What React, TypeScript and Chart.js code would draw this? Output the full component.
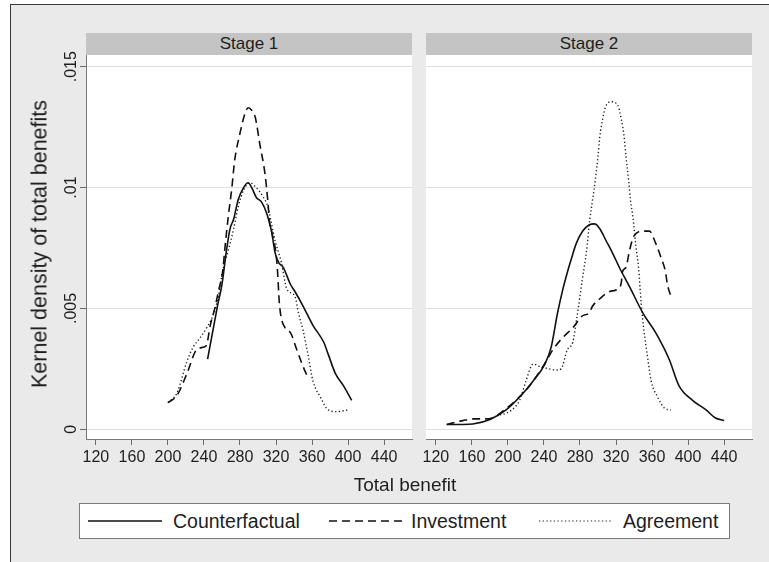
import { useEffect, useRef } from "react";
import { Chart, registerables } from "chart.js";

Chart.register(...registerables);

const FONT = "'Liberation Sans', Arial, Helvetica, sans-serif";

const STAGES = ["Stage 1", "Stage 2"];
const SERIES_NAMES = ["Counterfactual", "Investment", "Agreement"];
const X_TICKS = [120, 160, 200, 240, 280, 320, 360, 400, 440];
const Y_TICKS = [0, 0.005, 0.01, 0.015];
const Y_TICK_LABELS = ["0", ".005", ".01", ".015"];
const X_TITLE = "Total benefit";
const Y_TITLE = "Kernel density of total benefits";

// Stage 1 kernel density estimates
const S1_COUNTER_X = [244, 250, 255, 260, 265, 269, 273, 278, 284, 289, 293, 298, 304, 310, 315, 319, 323, 328, 336, 341, 350, 361, 373, 378, 386, 395, 404];
const S1_COUNTER_Y = [0.0029, 0.0041, 0.0051, 0.006, 0.0074, 0.0083, 0.0087, 0.0095, 0.01, 0.0102, 0.01, 0.0096, 0.0094, 0.0089, 0.0082, 0.0073, 0.0069, 0.0067, 0.006, 0.0057, 0.0051, 0.0043, 0.0036, 0.0031, 0.0023, 0.0018, 0.0012];

const S1_INVEST_X = [200, 210, 221, 232, 240, 243, 247, 252, 256, 261, 263, 267, 271, 274, 280, 285, 289, 293, 297, 302, 308, 311, 313, 315, 321, 324, 330, 336, 343, 350, 356];
const S1_INVEST_Y = [0.0011, 0.0014, 0.0023, 0.0033, 0.0034, 0.0035, 0.0043, 0.005, 0.0057, 0.0066, 0.0074, 0.0088, 0.01, 0.0111, 0.01225, 0.013, 0.0133, 0.0132, 0.0129, 0.0118, 0.0105, 0.0094, 0.0085, 0.0082, 0.0069, 0.0051, 0.0042, 0.004, 0.0033, 0.0026, 0.0021];

const S1_AGREE_X = [200, 210, 221, 228, 236, 243, 250, 256, 261, 267, 273, 278, 284, 291, 298, 306, 311, 315, 319, 326, 332, 341, 345, 350, 356, 361, 369, 378, 387, 400];
const S1_AGREE_Y = [0.0011, 0.0015, 0.0028, 0.0034, 0.0038, 0.0042, 0.0047, 0.0055, 0.0066, 0.0074, 0.0083, 0.0092, 0.0099, 0.0102, 0.01, 0.0096, 0.0092, 0.0085, 0.0078, 0.0069, 0.0058, 0.0055, 0.0048, 0.0041, 0.003, 0.002, 0.00135, 0.0008, 0.00073, 0.0008];

// Stage 2 kernel density estimates
const S2_COUNTER_X = [132, 150, 161, 180, 198, 217, 228, 241, 248, 255, 261, 266, 270, 276, 283, 290, 296, 302, 309, 316, 325, 335, 350, 364, 379, 390, 405, 420, 430, 440];
const S2_COUNTER_Y = [0.0002, 0.0002, 0.00022, 0.00041, 0.0008, 0.0015, 0.002, 0.0027, 0.0034, 0.0048, 0.0058, 0.0065, 0.007, 0.0077, 0.0082, 0.00845, 0.0085, 0.0083, 0.0078, 0.0073, 0.0066, 0.0059, 0.0048, 0.004, 0.0029, 0.0018, 0.0012, 0.0008, 0.00048, 0.00036];

const S2_INVEST_X = [132, 150, 161, 178, 198, 213, 224, 239, 250, 261, 272, 283, 290, 294, 302, 313, 322, 326, 327, 331, 335, 340, 350, 357, 364, 370, 375, 377, 381];
const S2_INVEST_Y = [0.0002, 0.00036, 0.00043, 0.00043, 0.00086, 0.00135, 0.0018, 0.0026, 0.0033, 0.0038, 0.0042, 0.0047, 0.0048, 0.0051, 0.0054, 0.0057, 0.0058, 0.0061, 0.0065, 0.0067, 0.0074, 0.008, 0.0082, 0.0082, 0.0077, 0.0071, 0.0065, 0.006, 0.0055];

const S2_AGREE_X = [191, 198, 208, 213, 220, 228, 235, 246, 254, 259, 266, 272, 276, 280, 283, 287, 291, 294, 297, 300, 302, 305, 309, 315, 322, 326, 329, 331, 334, 336, 339, 342, 345, 348, 351, 355, 359, 366, 374, 381];
const S2_AGREE_Y = [0.0006, 0.00066, 0.00093, 0.0012, 0.002, 0.0027, 0.0026, 0.0025, 0.00245, 0.0025, 0.0033, 0.0036, 0.0045, 0.0055, 0.0063, 0.0073, 0.0087, 0.0095, 0.0103, 0.0113, 0.0121, 0.0128, 0.0134, 0.01355, 0.0134, 0.0128, 0.0121, 0.0113, 0.0103, 0.0095, 0.0087, 0.0076, 0.0067, 0.0052, 0.0041, 0.003, 0.002, 0.00135, 0.00087, 0.0008];

const STAGE_SERIES = [
  [
    [S1_COUNTER_X, S1_COUNTER_Y],
    [S1_INVEST_X, S1_INVEST_Y],
    [S1_AGREE_X, S1_AGREE_Y],
  ],
  [
    [S2_COUNTER_X, S2_COUNTER_Y],
    [S2_INVEST_X, S2_INVEST_Y],
    [S2_AGREE_X, S2_AGREE_Y],
  ],
];

const LINE_STYLES = [
  { borderDash: [] as number[], borderWidth: 1.6, color: "#111" },
  { borderDash: [8, 5], borderWidth: 1.6, color: "#111" },
  { borderDash: [1.3, 2.4], borderWidth: 1.4, color: "#222" },
];

const W = 769;
const H = 562;
const PLOT_TOP = 55;
const PLOT_BOTTOM = 439;
const PANELS = [
  { left: 86, right: 412, showY: true },
  { left: 426, right: 752, showY: false },
];

const panelDecor = {
  id: "panelDecor",
  beforeDraw(chart: any) {
    const { ctx, chartArea } = chart;
    ctx.save();
    ctx.fillStyle = "#ffffff";
    ctx.fillRect(chartArea.left, chartArea.top, chartArea.right - chartArea.left, chartArea.bottom - chartArea.top);
    ctx.restore();
  },
  afterDraw(chart: any, _args: any, opts: any) {
    const { ctx } = chart;
    const xs = chart.scales.x;
    const ys = chart.scales.y;
    ctx.save();
    ctx.fillStyle = "#1e1e1e";
    ctx.font = `16px ${FONT}`;
    ctx.textAlign = "center";
    ctx.textBaseline = "middle";
    X_TICKS.forEach((v) => {
      ctx.fillText(String(v), xs.getPixelForValue(v), 458);
    });
    if (opts && opts.yLabels) {
      Y_TICKS.forEach((v, i) => {
        ctx.save();
        ctx.translate(71.5, ys.getPixelForValue(v));
        ctx.rotate(-Math.PI / 2);
        ctx.fillText(Y_TICK_LABELS[i], 0, 0);
        ctx.restore();
      });
    }
    ctx.restore();
  },
};

function Panel({ index }: { index: number }) {
  const ref = useRef<HTMLCanvasElement | null>(null);
  useEffect(() => {
    const canvas = ref.current;
    if (!canvas) return;
    const p = PANELS[index];
    const yWidth = p.showY ? 6 : 0;
    const chart = new Chart(canvas, {
      type: "line",
      data: {
        datasets: STAGE_SERIES[index].map(([xs, ys], k) => ({
          label: SERIES_NAMES[k],
          data: xs.map((x, i) => ({ x, y: ys[i] })),
          borderColor: LINE_STYLES[k].color,
          borderWidth: LINE_STYLES[k].borderWidth,
          borderDash: LINE_STYLES[k].borderDash,
          pointRadius: 0,
          fill: false,
          cubicInterpolationMode: "monotone" as const,
        })),
      },
      options: {
        responsive: false,
        animation: false,
        devicePixelRatio: 1,
        events: [],
        layout: {
          padding: {
            left: p.left - yWidth,
            right: W - p.right,
            top: PLOT_TOP,
            bottom: H - PLOT_BOTTOM - 6,
          },
        },
        plugins: {
          legend: { display: false },
          tooltip: { enabled: false },
          title: { display: false },
          panelDecor: { yLabels: p.showY },
        } as any,
        scales: {
          x: {
            type: "linear",
            min: 109,
            max: 471,
            afterBuildTicks: (s: any) => {
              s.ticks = X_TICKS.map((v) => ({ value: v }));
            },
            afterFit: (s: any) => {
              s.height = 6;
            },
            ticks: { display: false },
            grid: {
              drawOnChartArea: false,
              drawTicks: true,
              tickLength: 6,
              tickColor: "#6a6a6a",
              color: "#6a6a6a",
            },
            border: { display: true, color: "#7a7a7a", width: 1 },
          },
          y: {
            type: "linear",
            min: -0.000401,
            max: 0.015484,
            afterBuildTicks: (s: any) => {
              s.ticks = Y_TICKS.map((v) => ({ value: v }));
            },
            afterFit: (s: any) => {
              s.width = yWidth;
            },
            ticks: { display: false },
            grid: {
              color: "#dedede",
              lineWidth: 1,
              drawTicks: p.showY,
              tickLength: 6,
              tickColor: "#6a6a6a",
            },
            border: { display: p.showY, color: "#7a7a7a", width: 1 },
          },
        },
      },
      plugins: [panelDecor],
    });
    return () => chart.destroy();
  }, [index]);
  return (
    <canvas
      ref={ref}
      width={W}
      height={H}
      style={{ position: "absolute", left: 0, top: 0, width: W, height: H }}
    />
  );
}

function LegendLine({ k }: { k: number }) {
  const s = LINE_STYLES[k];
  return (
    <svg width={74} height={6} style={{ display: "block" }}>
      <line
        x1={0}
        y1={3}
        x2={74}
        y2={3}
        stroke={s.color}
        strokeWidth={k === 2 ? 1 : 1.4}
        strokeDasharray={s.borderDash.length ? s.borderDash.join(" ") : undefined}
      />
    </svg>
  );
}

const LEGEND_ITEMS = [
  { line: 8, text: 93 },
  { line: 249, text: 331 },
  { line: 459, text: 543 },
];

export default function App() {
  const textStyle = { fontFamily: FONT, color: "#1e1e1e" } as const;
  return (
    <div
      style={{
        position: "fixed",
        left: 0,
        top: 0,
        width: W,
        height: H,
        background: "#ffffff",
        overflow: "hidden",
      }}
    >
      <div
        style={{
          position: "absolute",
          left: 10,
          top: 4,
          width: W,
          height: H,
          background: "#eaeaea",
          borderLeft: "1px solid #3a3a3a",
          borderTop: "1px solid #3a3a3a",
        }}
      />
      {PANELS.map((p, i) => (
        <div
          key={STAGES[i]}
          style={{
            ...textStyle,
            position: "absolute",
            left: p.left,
            top: 33,
            width: p.right - p.left,
            height: 22,
            background: "#c4c4c4",
            fontSize: 17,
            lineHeight: "22px",
            textAlign: "center",
          }}
        >
          {STAGES[i]}
        </div>
      ))}
      <Panel index={0} />
      <Panel index={1} />
      <div
        style={{
          ...textStyle,
          position: "absolute",
          left: 405,
          top: 485,
          transform: "translate(-50%, -50%)",
          fontSize: 19,
          whiteSpace: "nowrap",
        }}
      >
        {X_TITLE}
      </div>
      <div
        style={{
          ...textStyle,
          position: "absolute",
          left: 40,
          top: 244,
          transform: "translate(-50%, -50%) rotate(-90deg)",
          fontSize: 21.5,
          whiteSpace: "nowrap",
        }}
      >
        {Y_TITLE}
      </div>
      <div
        style={{
          position: "absolute",
          left: 79,
          top: 503,
          width: 649,
          height: 34,
          background: "#ffffff",
          border: "1px solid #7a7a7a",
        }}
      >
        {LEGEND_ITEMS.map((it, k) => (
          <div key={SERIES_NAMES[k]}>
            <div style={{ position: "absolute", left: it.line, top: 14 }}>
              <LegendLine k={k} />
            </div>
            <div
              style={{
                ...textStyle,
                position: "absolute",
                left: it.text,
                top: 0,
                height: 34,
                lineHeight: "34px",
                fontSize: 19.5,
                whiteSpace: "nowrap",
              }}
            >
              {SERIES_NAMES[k]}
            </div>
          </div>
        ))}
      </div>
    </div>
  );
}
